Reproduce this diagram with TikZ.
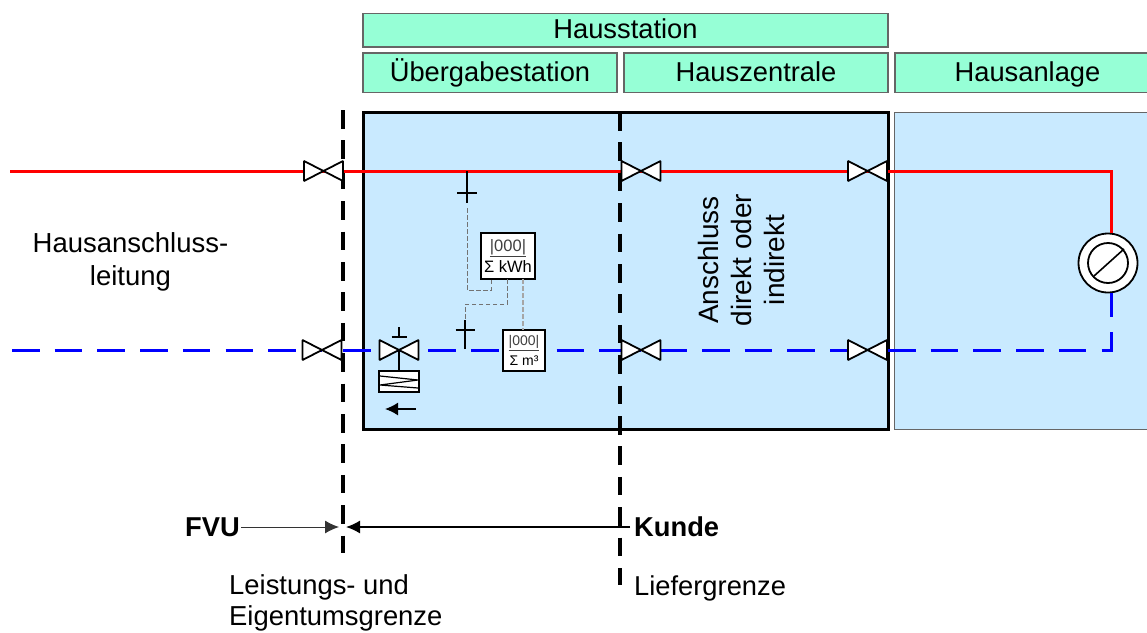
\documentclass[tikz,border=0pt]{standalone}
\usepackage{fontspec}
\setmainfont{Liberation Sans}
\usetikzlibrary{arrows.meta}
\definecolor{headgreen}{HTML}{96FFD6}
\definecolor{roomblue}{HTML}{C9EAFF}
\newcommand{\meterdigits}{\textcolor{black!75}{\underline{|000|}}}
\tikzset{
  headbox/.style={draw=black!60, fill=headgreen, line width=1.5pt, minimum height=39.5pt, inner sep=0pt, text height=20pt, text depth=3pt, font=\fontsize{27.3}{32}\selectfont},
  label/.style={inner sep=0pt, anchor=base west, font=\fontsize{27.3}{33}\selectfont, align=left},
  boldlabel/.style={label, font=\bfseries\fontsize{27.3}{33}\selectfont},
  meter/.style={draw=black, fill=white, line width=1.8pt, inner sep=0pt, align=center},
  border/.style={black, line width=3.5pt, dash pattern=on 18.5pt off 11.9pt},
  feedline/.style={red, line width=3pt},
  returnline/.style={blue, line width=3pt, dash pattern=on 27.5pt off 15.2pt},
  sensorline/.style={black!55, line width=1pt, dash pattern=on 4.5pt off 2.5pt},
  valve/.pic={
    \draw[black, fill=white, line width=1.8pt, line join=bevel] (-19.5,-10) -- (19.5,10) -- (19.5,-10) -- (-19.5,10) -- cycle;
  }
}
\begin{document}
\begin{tikzpicture}[x=1pt, y=-1pt]
    \useasboundingbox (0,0) rectangle (1147,632);

    % Rooms
    \draw[fill=roomblue, draw=black!60, line width=1pt] (894,112) rectangle (1150,429);
    \draw[fill=roomblue, draw=black, line width=3pt] (363,112) rectangle (888,429);

    % Header
    \node[headbox, minimum width=525pt, minimum height=33.5pt] (haus) at (625.5,30) {Hausstation};
    \node[headbox, minimum width=254pt] (uebergabe) at (490,72.7) {Übergabestation};
    \node[headbox, minimum width=264pt] (zentrale) at (756,72.7) {Hauszentrale};
    \node[headbox, minimum width=265pt] (anlage) at (1027.5,72.7) {Hausanlage};

    % Valve positions
    \coordinate (vfa) at (323.5,171);
    \coordinate (vfb) at (641,171);
    \coordinate (vfc) at (867.5,171);
    \coordinate (vra) at (322,350);
    \coordinate (vrb) at (641,350);
    \coordinate (vrc) at (867.5,350);
    \coordinate (vctl) at (399,350);
    \coordinate (redstart) at (10,171);
    \coordinate (redcorner) at (1111,171);
    \coordinate (bluestart) at (12,350);
    \coordinate (bluecorner) at (1111,350);
    \coordinate (bluemid) at (659.3,350);
    \coordinate (blueroom) at (888,350);

    % Boundaries
    \coordinate (lgtop) at (343,110);
    \coordinate (lgbot) at (343,553);
    \coordinate (kgtop) at (620,112);
    \coordinate (kgbot) at (620,585);
    \draw[border] (lgtop) -- (lgbot);
    \draw[border] (kgtop) -- (kgbot);

    % Pipes
    \node[circle, draw=black, fill=white, line width=1.8pt, minimum size=59pt, inner sep=0pt] (pump) at (1108,263) {};
    \draw[feedline] (redstart) -- (vfa);
    \draw[feedline] (vfa) -- (redcorner) -- (redcorner |- pump.north);
    \draw[returnline] (bluestart) -- (vra);
    \draw[returnline] (lgtop |- vra) -- (kgtop |- vra);
    \draw[blue, line width=3pt] (kgtop |- vrb) -- (vrb);
    \draw[returnline] (bluemid) -- (blueroom);
    \draw[returnline] (blueroom) -- (bluecorner) -- (bluecorner |- pump.south);

    % Valves
    \foreach \v in {vfa,vfb,vfc,vra,vrb,vrc,vctl} {
      \pic at (\v) {valve};
    }

    % Pump
    \draw[black, line width=1.8pt] (pump) circle (20);
    \draw[black, line width=1.6pt] (1094,276) -- (1124,249);

    % Control valve
    \coordinate (ctlcap) at (399,337);
    \coordinate (ctltop) at (399,327);
    \coordinate (ctlact) at (399,371);
    \draw[black, line width=1.6pt] (ctltop) -- (ctlcap);
    \draw[black, line width=1.6pt] (391.5,337) -- (407,337);
    \draw[black, line width=1.6pt] (vctl) -- (ctlact);
    \draw[black, fill=white, line width=1.8pt] (379,371) rectangle (419,392);
    \draw[black, line width=1.2pt, line join=bevel] (380,376) -- (418,380) -- (380,385) -- (418,388);
    \coordinate (ctlarrowa) at (416,409);
    \coordinate (ctlarrowb) at (385,409);
    \draw[-{Latex[length=13pt,width=13pt]}, black, line width=1.5pt] (ctlarrowa) -- (ctlarrowb);

    % Meters
    \node[meter, minimum width=54pt, minimum height=46pt, font=\fontsize{16.5}{21}\selectfont] (kwh) at (508,256) {\meterdigits\\Σ kWh};
    \node[meter, minimum width=42pt, minimum height=41pt, font=\fontsize{14}{20}\selectfont] (mcube) at (524,350.5) {\meterdigits\\Σ m³};

    % Sensors
    \coordinate (sfa) at (467,171);
    \coordinate (sfb) at (467,203);
    \coordinate (sfc) at (467,208);
    \coordinate (sra) at (465,349);
    \coordinate (srb) at (465,320);
    \draw[black, line width=1.5pt] (sfa) -- (sfb);
    \draw[black, line width=1.5pt] (457,193) -- (477,193);
    \draw[black, line width=1.5pt] (sra) -- (srb);
    \draw[black, line width=1.5pt] (455.5,330) -- (475,330);
    \draw[sensorline] (sfc) -- (467,290) -- (491,290) -- (491,279);
    \draw[sensorline] (507,279) -- (507,304) -- (465,304) -- (srb);
    \draw[sensorline, black!35, line width=1.5pt] (523,279) -- (523,330);

    % Texts
    \node[label, align=center, anchor=base, font=\fontsize{27.5}{33}\selectfont] (anschlusstext) at (130.5,285) {Hausanschluss-\\leitung};
    \node[rotate=90, align=center, font=\fontsize{28}{33}\selectfont, inner sep=0pt] (direkt) at (741,260) {Anschluss\\direkt oder\\indirekt};

    \node[boldlabel] (fvu) at (185,536) {FVU};
    \node[boldlabel] (kunde) at (634,536) {Kunde};
    \node[label, font=\fontsize{27.4}{31}\selectfont] (leistung) at (229,625.5) {Leistungs- und\\Eigentumsgrenze};
    \node[label] (liefer) at (634,595) {Liefergrenze};

    % Boundary arrows
    \coordinate (fvustart) at (241,527);
    \coordinate (fvuend) at (339,527);
    \coordinate (kundestart) at (630,527);
    \coordinate (kundeend) at (346,527);
    \draw[-{Latex[length=14pt,width=13pt]}, black!80, line width=1pt] (fvustart) -- (fvuend);
    \draw[-{Latex[length=14pt,width=13pt]}, black, line width=1.4pt] (kundestart) -- (kundeend);
\end{tikzpicture}
\end{document}
